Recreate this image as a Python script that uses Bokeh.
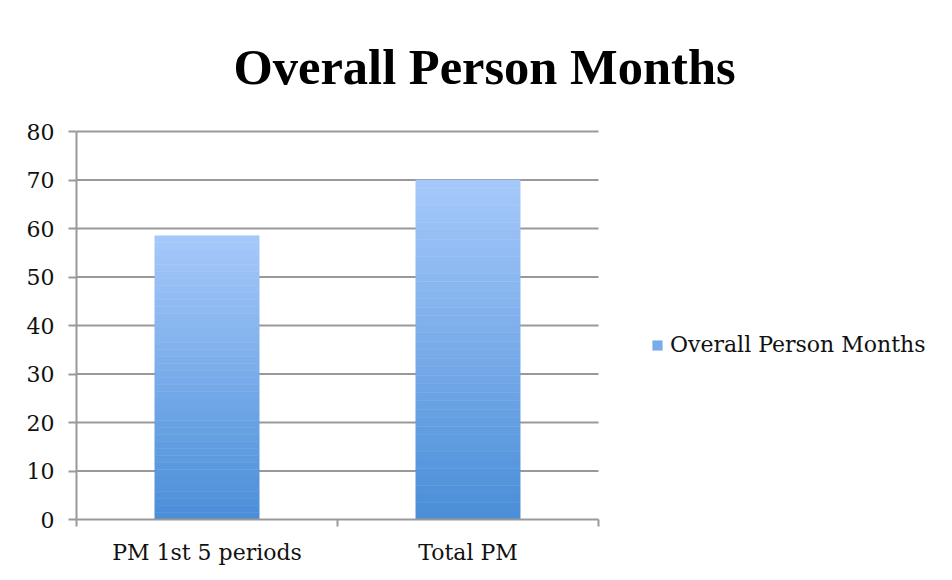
from bokeh.plotting import figure
from bokeh.models import (Range1d, FixedTicker, Legend, LegendItem, ColumnDataSource)
from bokeh.embed import file_html
from bokeh.resources import INLINE

# ---- data ----
categories = ["PM 1st 5 periods", "Total PM"]
values = [58.5, 70.0]
series_name = "Overall Person Months"
y_ticks = [0, 10, 20, 30, 40, 50, 60, 70, 80]

# ---- style / layout ----
TOP = (0xA6, 0xC9, 0xFA)
BOTTOM = (0x4A, 0x8E, 0xD8)
N_SLICES = 40
GRID = "#999999"
SERIF = "DejaVu Serif"
W, H = 936, 572
LEFT, TOPB, BOTTOMB = 76, 129, 53
PLOT_W = 522  # pixel width of the category area
PLOT_H = 388  # pixel height of 0..80
PAD_PX = 2    # headroom so the top gridline is not clipped

def mix(t):
    r = [round(BOTTOM[i] + (TOP[i] - BOTTOM[i]) * t) for i in range(3)]
    return "#%02x%02x%02x" % tuple(r)

n = len(categories)
xs = [i + 0.5 for i in range(n)]
x_end = n * (W - LEFT) / PLOT_W
y_max = y_ticks[-1]
y_end = y_max * (PLOT_H + PAD_PX) / PLOT_H

# gradient slices derived from each bar's value
sx, sb, st, sc = [], [], [], []
for x, v in zip(xs, values):
    for k in range(N_SLICES):
        sx.append(x)
        sb.append(v * k / N_SLICES)
        st.append(v * (k + 1) / N_SLICES)
        sc.append(mix((k + 0.5) / N_SLICES))
src = ColumnDataSource(dict(x=sx, bottom=sb, top=st, color=sc))

p = figure(width=W, height=H, output_backend="svg", toolbar_location=None,
           x_range=Range1d(0, x_end), y_range=Range1d(0, y_end),
           min_border_left=LEFT, min_border_right=0, min_border_top=TOPB,
           min_border_bottom=BOTTOMB)

# horizontal gridlines, only across the category area
grid_y = [t for t in y_ticks if t != 0]
p.segment(x0=[0] * len(grid_y), x1=[n] * len(grid_y), y0=grid_y, y1=grid_y,
          line_color=GRID, line_width=2)

r = p.vbar(x="x", bottom="bottom", top="top", width=0.4, source=src,
           fill_color="color", line_color="color", line_width=0.5)

# title
p.title.text = series_name
p.title.text_font = "Liberation Serif"
p.title.text_font_style = "bold"
p.title.text_font_size = "50.5px"
p.title.text_color = "#000000"
p.title.align = "left"
p.title.offset = 157
p.title.standoff = 70

p.outline_line_color = None
p.background_fill_color = "white"
p.border_fill_color = "white"

# axes
xa = p.xaxis[0]
xa.bounds = (0, n)
xa.ticker = FixedTicker(ticks=xs, minor_ticks=[float(i) for i in range(n + 1)])
xa.major_label_overrides = {x: c for x, c in zip(xs, categories)}
xa.major_tick_line_color = None
xa.minor_tick_line_color = GRID
xa.minor_tick_line_width = 2
xa.minor_tick_out = 7
xa.minor_tick_in = 0
xa.axis_line_color = GRID
xa.axis_line_width = 2
xa.major_label_text_font = SERIF
xa.major_label_text_font_size = "22px"
xa.major_label_text_color = "#111111"
xa.major_label_standoff = 13

ya = p.yaxis[0]
ya.bounds = (0, y_max)
ya.ticker = FixedTicker(ticks=y_ticks)
ya.major_tick_line_color = GRID
ya.major_tick_line_width = 2
ya.major_tick_out = 8
ya.major_tick_in = 0
ya.minor_tick_line_color = None
ya.axis_line_color = GRID
ya.axis_line_width = 2
ya.major_label_text_font = SERIF
ya.major_label_text_font_size = "22px"
ya.major_label_text_color = "#111111"
ya.major_label_standoff = 14

p.xgrid.grid_line_color = None
p.ygrid.grid_line_color = None

legend = Legend(items=[LegendItem(label=series_name, renderers=[r], index=N_SLICES // 2)],
                location=(575, 162), glyph_width=12, glyph_height=12,
                label_standoff=7, padding=0, margin=0, spacing=0,
                border_line_color=None, background_fill_alpha=0,
                label_text_font=SERIF, label_text_font_size="22px",
                label_text_color="#111111")
p.add_layout(legend)

open("out.html", "w").write(file_html(p, INLINE))
